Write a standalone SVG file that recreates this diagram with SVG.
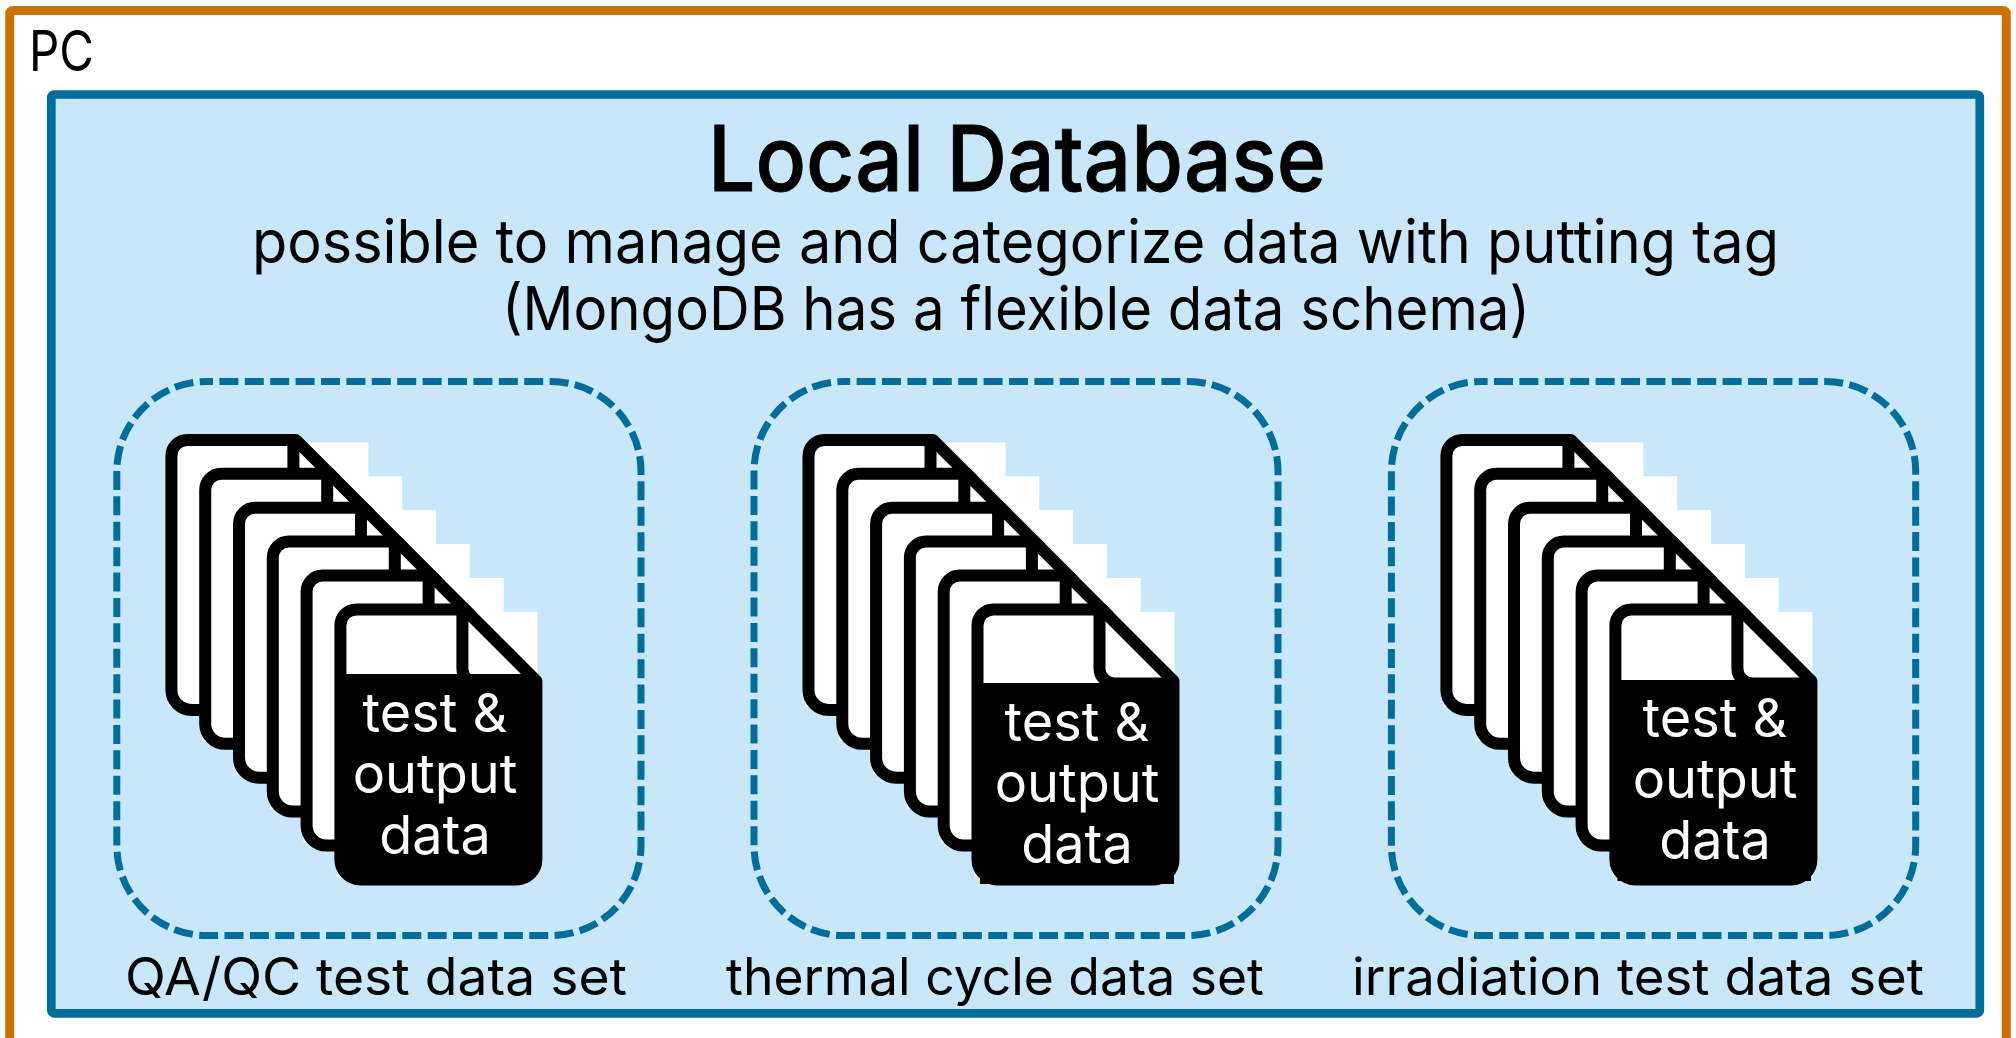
<svg xmlns="http://www.w3.org/2000/svg" xmlns:xlink="http://www.w3.org/1999/xlink" width="2016" height="1038" viewBox="0 0 2016 1038">
<style>
text{font-family:"Inter","Noto Sans","Liberation Sans",sans-serif;fill:#000}
.title{font-size:91px;font-weight:500;stroke:#000;stroke-width:.8}
.sub{font-size:60px}
.label{font-size:52px}
.pc{font-size:56px}
.doc{font-size:54px;fill:#fff;text-anchor:middle}
.set{fill:none;stroke:#006e9d;stroke-width:7;stroke-dasharray:19 6.4;stroke-dashoffset:12.8}
.sheet{fill:none;stroke:#000;stroke-width:12;stroke-linejoin:round}
</style>
<defs>
<g id="page">
<rect x="3" y="8.5" width="200" height="264.5" fill="#fff"/>
<path class="sheet" d="M22,6H130.5L202,77.5V256a20,20 0 0 1 -20,20H26a20,20 0 0 1 -20,-20V22a16,16 0 0 1 16,-16Z"/>
<path class="sheet" d="M128,6V65a15,15 0 0 0 15,15H202"/>
</g>
<g id="stack">
<use href="#page"/>
<use href="#page" x="33.8" y="33.9"/>
<use href="#page" x="67.6" y="67.8"/>
<use href="#page" x="101.4" y="101.7"/>
<use href="#page" x="135.2" y="135.6"/>
<use href="#page" x="169" y="169.5"/>
</g>
</defs>
<rect width="2016" height="1038" fill="#fff"/>
<g id="pc">
<rect x="9.7" y="10.5" width="1996.6" height="1040" rx="3" fill="#fff" stroke="#cc7000" stroke-width="9"/>
<text class="pc" x="29" y="71" textLength="65" lengthAdjust="spacingAndGlyphs">PC</text>
</g>
<g id="local-database">
<rect x="51.3" y="94.5" width="1928.5" height="918.9" rx="3" fill="#c8e8fa" stroke="#006e9d" stroke-width="8.7"/>
<text class="title" x="708" y="191" textLength="618" lengthAdjust="spacingAndGlyphs">Local Database</text>
<text class="sub" x="252" y="263" textLength="1527" lengthAdjust="spacingAndGlyphs">possible to manage and categorize data with putting tag</text>
<text class="sub" x="502" y="330" textLength="1028" lengthAdjust="spacingAndGlyphs">(MongoDB has a flexible data schema)</text>
</g>
<g id="qa-qc-set">
<rect class="set" x="116.8" y="381.5" width="524.2" height="554" rx="90" ry="90"/>
<use href="#stack" x="165.4" y="433.9"/>
<rect x="342" y="674" width="195" height="201" fill="#000"/>
<text class="doc" x="435" y="732">test &amp;</text>
<text class="doc" x="435" y="793">output</text>
<text class="doc" x="435" y="854">data</text>
<text class="label" x="125" y="995" textLength="502" lengthAdjust="spacingAndGlyphs">QA/QC test data set</text>
</g>
<g id="thermal-cycle-set">
<rect class="set" x="754" y="381.5" width="524" height="554" rx="90" ry="90"/>
<use href="#stack" x="802.5" y="433.9"/>
<rect x="980" y="683" width="194" height="201" fill="#000"/>
<text class="doc" x="1077" y="741">test &amp;</text>
<text class="doc" x="1077" y="801.5">output</text>
<text class="doc" x="1077" y="862.5">data</text>
<text class="label" x="726" y="995" textLength="538" lengthAdjust="spacingAndGlyphs">thermal cycle data set</text>
</g>
<g id="irradiation-set">
<rect class="set" x="1391.4" y="381.5" width="524.3" height="554" rx="90" ry="90"/>
<use href="#stack" x="1440.4" y="433.9"/>
<rect x="1617.5" y="680" width="193.5" height="201" fill="#000"/>
<text class="doc" x="1715" y="737">test &amp;</text>
<text class="doc" x="1715" y="798">output</text>
<text class="doc" x="1715" y="859">data</text>
<text class="label" x="1352" y="995" textLength="572" lengthAdjust="spacingAndGlyphs">irradiation test data set</text>
</g>
<g id="connectors"></g>
</svg>
